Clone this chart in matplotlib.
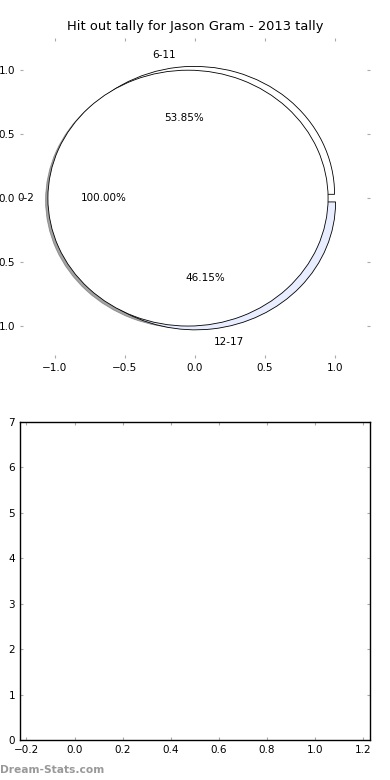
import matplotlib
matplotlib.use("Agg")
import matplotlib.pyplot as plt

# Data
player = "Jason Gram"
season = "2013"
short_labels = ["0-2"]
short_values = [1]
long_labels = ["6-11", "12-17"]
long_values = [7, 6]
bar_values = []  # lower panel is empty
y_ticks = [0, 1, 2, 3, 4, 5, 6, 7]
x_ticks = [-0.2, 0.0, 0.2, 0.4, 0.6, 0.8, 1.0, 1.2]

plt.rcParams["font.family"] = ["DejaVu Sans"]
plt.rcParams["xtick.direction"] = "in"
plt.rcParams["ytick.direction"] = "in"
plt.rcParams["xtick.top"] = True
plt.rcParams["ytick.right"] = True
plt.rcParams["xtick.color"] = "#aaaaaa"
plt.rcParams["ytick.color"] = "#aaaaaa"
plt.rcParams["xtick.labelcolor"] = "black"
plt.rcParams["ytick.labelcolor"] = "black"
plt.rcParams["xtick.major.size"] = 2.5
plt.rcParams["ytick.major.size"] = 2.5
plt.rcParams["xtick.labelsize"] = 7.5
plt.rcParams["ytick.labelsize"] = 7.5

fig = plt.figure(figsize=(3.9, 7.8), dpi=100)

# Upper panel: two overlapping pies
ax1 = fig.add_axes([0.051, 0.541, 0.898, 0.41])
ax1.pie(long_values, labels=long_labels, autopct="%1.2f%%",
        explode=[0.03, 0.03], colors=["#ffffff", "#e8eeff"],
        wedgeprops={"edgecolor": "black", "linewidth": 0.6},
        textprops={"fontsize": 7.5}, frame=True)
ax1.pie(short_values, labels=short_labels, autopct="%1.2f%%",
        explode=[0.05], colors=["#ffffff"],
        shadow={"ox": -0.012, "oy": -0.012, "shade": 0.6, "alpha": 0.6},
        wedgeprops={"edgecolor": "black", "linewidth": 0.6},
        textprops={"fontsize": 7.5}, frame=True)
ax1.set_aspect("auto")
ax1.set_xlim(-1.25, 1.25)
ax1.set_ylim(-1.25, 1.25)
ax1.set_xticks([-1.0, -0.5, 0.0, 0.5, 1.0])
ax1.set_yticks([-1.0, -0.5, 0.0, 0.5, 1.0])
ax1.set_yticklabels(["1.0", "0.5", "0.0", "0.5", "1.0"])
for s in ax1.spines.values():
    s.set_visible(False)
ax1.set_title("Hit out tally for %s - %s tally" % (player, season), fontsize=9.4)

# Lower panel: empty bar chart
ax2 = fig.add_axes([0.051, 0.051, 0.898, 0.408])
ax2.bar(range(len(bar_values)), bar_values)
ax2.set_xlim(-0.227, 1.228)
ax2.set_ylim(0, 7)
ax2.set_xticks(x_ticks)
ax2.set_yticks(y_ticks)
for s in ax2.spines.values():
    s.set_linewidth(1.0)

fig.text(0.0, 0.013, "Dream-Stats.com", color="#999999", fontsize=7.7,
         fontweight="bold", ha="left", va="center")

fig.savefig("out.png", dpi=100)
